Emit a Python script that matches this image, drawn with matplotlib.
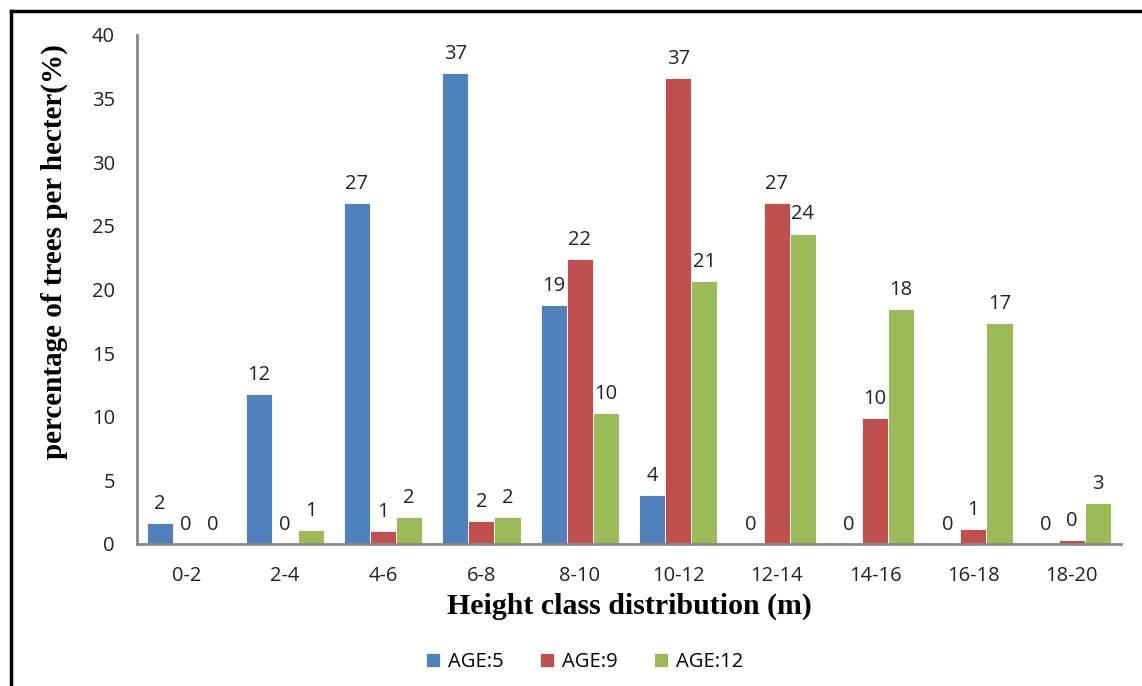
import matplotlib
matplotlib.use("Agg")
import matplotlib.pyplot as plt
import numpy as np
from matplotlib.lines import Line2D

categories = ["0-2", "2-4", "4-6", "6-8", "8-10", "10-12", "12-14", "14-16", "16-18", "18-20"]
age5 = [1.65, 11.8, 26.8, 37.0, 18.8, 3.85, 0, 0, 0, 0]
age9 = [0, 0, 1.0, 1.8, 22.4, 36.6, 26.8, 9.9, 1.2, 0.3]
age12 = [0, 1.1, 2.1, 2.1, 10.3, 20.7, 24.4, 18.45, 17.4, 3.2]
series_names = ["AGE:5", "AGE:9", "AGE:12"]
colors = ["#4F81BD", "#C0504D", "#9BBB59"]

fig = plt.figure(figsize=(11.42, 6.86), dpi=100)
ax = fig.add_axes([0.12, 0.207, 0.8616, 0.742])

x = np.arange(len(categories))
w = 0.265
font = "Open Sans"
fs = 14.5
for i, (vals, name, c) in enumerate(zip([age5, age9, age12], series_names, colors)):
    xs = x + (i - 1) * w
    ax.bar(xs, vals, width=w, color=c, label=name, edgecolor="white", linewidth=0.6)
    for xi, v in zip(xs, vals):
        ax.annotate(f"{int(round(v + 1e-9))}", (xi, v), xytext=(0, 6.5), textcoords="offset points",
                    ha="center", va="bottom", fontsize=fs, family=font, color="#222222")

ax.set_xlim(-0.5, len(categories) - 0.5)
ax.set_ylim(0, 40)
ax.set_yticks(np.arange(0, 41, 5))
ax.set_xticks(x)
ax.set_xticklabels(categories, family=font, fontsize=fs)
for lab in ax.get_yticklabels():
    lab.set_family(font)
    lab.set_fontsize(fs)
ax.tick_params(axis="both", length=0, colors="#222222")
ax.tick_params(axis="x", pad=16)
ax.tick_params(axis="y", pad=16)
for s in ["top", "right"]:
    ax.spines[s].set_visible(False)
for s in ["left", "bottom"]:
    ax.spines[s].set_color("#888888")
    ax.spines[s].set_linewidth(2)

ax.set_ylabel("percentage of trees per hecter(%)", family="Liberation Serif", fontweight="bold", fontsize=21)
ax.yaxis.set_label_coords(-0.070, 0.574)
ax.set_xlabel("Height class distribution (m)", family="Liberation Serif", fontweight="bold", fontsize=21.5)
ax.xaxis.set_label_coords(0.5, -0.096)

fig.legend(loc="center", bbox_to_anchor=(0.512, 0.035), ncol=3, frameon=False,
           prop={"family": font, "size": fs}, handlelength=0.7, handleheight=0.7,
           columnspacing=1.8, handletextpad=0.4)

# figure border (left and top)
fig.add_artist(Line2D([11 / 1142, 11 / 1142], [0, 1 - 11 / 686], transform=fig.transFigure,
                      color="black", linewidth=2.5))
fig.add_artist(Line2D([11 / 1142, 1], [1 - 11 / 686, 1 - 11 / 686], transform=fig.transFigure,
                      color="black", linewidth=2.5))

fig.savefig("out.png", dpi=100)
